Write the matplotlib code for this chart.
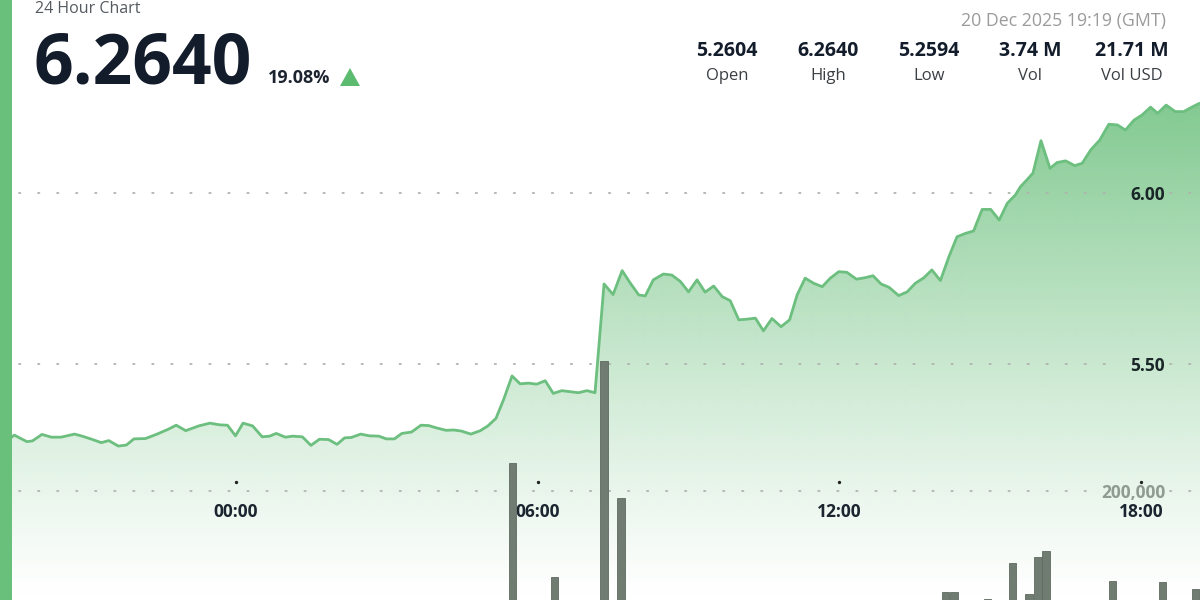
import numpy as np
import matplotlib
matplotlib.use("Agg")
import matplotlib.pyplot as plt
from matplotlib.patches import Rectangle, Polygon
from matplotlib.transforms import blended_transform_factory

plt.rcParams['font.family'] = ['Open Sans', 'DejaVu Sans']
plt.rcParams['lines.scale_dashes'] = False

# ---- data (hours relative to 20 Dec 2025 00:00 GMT) ----
price_hours = [-4.68, -4.41, -4.16, -4.05, -3.86, -3.67, -3.48, -3.21, -3.06, -2.87, -2.68,
               -2.53, -2.34, -2.18, -2.03, -1.80, -1.57, -1.35, -1.19, -1.00, -0.74, -0.52,
               -0.32, -0.17, -0.01, 0.14, 0.33, 0.52, 0.67, 0.80, 0.98, 1.13, 1.32, 1.49,
               1.66, 1.84, 2.01, 2.16, 2.29, 2.48, 2.65, 2.84, 2.99, 3.15, 3.30, 3.49, 3.68,
               3.83, 3.99, 4.18, 4.33, 4.48, 4.67, 4.86, 5.01, 5.17, 5.32, 5.49, 5.65, 5.82,
               5.98, 6.15, 6.31, 6.48, 6.65, 6.81, 6.98, 7.14, 7.32, 7.50, 7.68, 7.84, 8.01,
               8.14, 8.30, 8.50, 8.67, 8.84, 9.00, 9.17, 9.33, 9.50, 9.67, 9.83, 10.00, 10.16,
               10.33, 10.49, 10.66, 10.84, 11.01, 11.16, 11.32, 11.49, 11.66, 11.82, 11.99,
               12.15, 12.34, 12.50, 12.67, 12.83, 12.99, 13.18, 13.35, 13.51, 13.68, 13.84,
               14.01, 14.18, 14.34, 14.51, 14.67, 14.84, 15.01, 15.18, 15.34, 15.50, 15.60,
               15.74, 15.85, 16.01, 16.19, 16.33, 16.50, 16.68, 16.83, 17.00, 17.18, 17.36,
               17.53, 17.69, 17.86, 18.02, 18.19, 18.33, 18.50, 18.68, 18.85, 19.01, 19.16,
               19.32]
prices = [5.2604, 5.292, 5.273, 5.275, 5.294, 5.286, 5.286, 5.295, 5.289, 5.280, 5.270,
          5.276, 5.260, 5.263, 5.281, 5.282, 5.295, 5.309, 5.321, 5.305, 5.319, 5.327,
          5.322, 5.321, 5.290, 5.327, 5.319, 5.287, 5.289, 5.297, 5.286, 5.289, 5.287, 5.262,
          5.280, 5.279, 5.265, 5.284, 5.285, 5.295, 5.290, 5.289, 5.281, 5.281, 5.297, 5.301, 5.321,
          5.320, 5.313, 5.306, 5.307, 5.304, 5.295, 5.305, 5.319, 5.341, 5.395, 5.465, 5.442, 5.444,
          5.441, 5.451, 5.414, 5.422, 5.419, 5.416, 5.422, 5.416, 5.734, 5.703, 5.773, 5.737, 5.702,
          5.699, 5.746, 5.763, 5.760, 5.741, 5.711, 5.746, 5.710, 5.728, 5.697, 5.685, 5.629, 5.631,
          5.634, 5.597, 5.633, 5.609, 5.629, 5.702, 5.751, 5.736, 5.726, 5.751, 5.770,
          5.768, 5.748, 5.752, 5.758, 5.734, 5.724, 5.700, 5.711, 5.736, 5.752, 5.775,
          5.744, 5.814, 5.872, 5.882, 5.889, 5.952, 5.952, 5.921, 5.970, 5.994, 6.018,
          6.040, 6.058, 6.153, 6.072, 6.089, 6.094, 6.080, 6.087, 6.126, 6.155, 6.201,
          6.199, 6.184, 6.213, 6.228, 6.251, 6.233, 6.257, 6.238, 6.238, 6.251, 6.262,
          6.264]

vol_hours = [5.50, 6.33, 7.32, 7.66, 14.11, 14.28, 14.95, 15.44, 15.77, 15.95, 16.11,
             17.43, 18.43, 19.09]
volumes = [246600, 56000, 419000, 188700, 29700, 29700, 19300, 78500, 26900, 88600, 99700,
           49200, 46600, 35300]

price_ticks = [6.00, 5.50]
price_tick_labels = ["6.00", "5.50"]
vol_ticks = [200000]
vol_tick_labels = ["200,000"]
time_ticks = [0, 6, 12, 18]
time_tick_labels = ["00:00", "06:00", "12:00", "18:00"]

title = "24 Hour Chart"
last_price = "6.2640"
change_pct = "19.08%"
timestamp = "20 Dec 2025 19:19 (GMT)"
stat_values = ["5.2604", "6.2640", "5.2594", "3.74 M", "21.71 M"]
stat_names = ["Open", "High", "Low", "Vol", "Vol USD"]

# ---- figure ----
W, H = 1200, 600
fig = plt.figure(figsize=(12, 6), dpi=100)
fig.patch.set_facecolor("white")
ax = fig.add_axes([0, 0, 1, 1])
ax.set_xlim(-4.694, 19.173)
ax.set_ylim(4.8099, 6.5643)
ax.axis("off")

LINE = "#6cbf7e"
DARK = "#131c2b"

# gradient fill under the line
fill = ax.fill_between(price_hours, prices, 4.0, facecolor="none", edgecolor="none")
yy = np.linspace(0, 1, 600)[:, None]  # 0 top -> 1 bottom
alpha = 0.95 * np.clip(1 - yy, 0, 1) ** 1.15
base = np.array([92, 185, 111]) / 255.0
img = np.zeros((600, 1, 4))
img[..., 0] = base[0]
img[..., 1] = base[1]
img[..., 2] = base[2]
img[..., 3] = alpha
im = ax.imshow(img, extent=[0, 1, 0, 1], transform=ax.transAxes, aspect="auto",
               zorder=1, interpolation="bilinear")
im.set_clip_path(fill.get_paths()[0], transform=ax.transData)

ax.plot(price_hours, prices, color=LINE, lw=2.0, zorder=3, solid_joinstyle="round")

# dotted gridlines
dot_style = dict(color="#aeb3ae", lw=1.3, dashes=(1.0, 12.7), dash_capstyle="round", zorder=2)
for v in price_ticks:
    ax.axhline(v, xmin=0.016, xmax=0.925, **dot_style)
    ax.axhline(v, xmin=0.975, xmax=1.0, **dot_style)

# volume axis
ax2 = ax.twinx()
ax2.set_position([0, 0, 1, 1])
ax2.set_ylim(16807, 1025227)
ax2.axis("off")
for v in vol_ticks:
    ax2.axhline(v, xmin=0.016, xmax=0.915, **dot_style)
    ax2.axhline(v, xmin=0.975, xmax=1.0, **dot_style)
ax2.bar(vol_hours, volumes, width=0.145, color="#707c71", edgecolor="#5e6a60",
        linewidth=0.6, zorder=4)

# price tick labels
tr_r = blended_transform_factory(ax.transAxes, ax.transData)
for v, s in zip(price_ticks, price_tick_labels):
    ax.text(0.971, v, s, transform=tr_r, ha="right", va="center_baseline",
            fontsize=12.5, fontweight="bold", color="#1b2628", zorder=6)
tr_r2 = blended_transform_factory(ax2.transAxes, ax2.transData)
for v, s in zip(vol_ticks, vol_tick_labels):
    ax2.text(0.971, v, s, transform=tr_r2, ha="right", va="center_baseline",
             fontsize=12.5, fontweight="bold", color="#8f9a90", zorder=6)

# time tick labels
tr_x = blended_transform_factory(ax.transData, ax.transAxes)
for t, s in zip(time_ticks, time_tick_labels):
    ax.text(t, 1 - 510 / H, s, transform=tr_x, ha="center", va="center_baseline",
            fontsize=12.5, fontweight="bold", color="#1b2530", zorder=6)
    ax.plot([t], [1 - 482 / H], transform=tr_x, marker="o", ms=1.4, color="#222222",
            zorder=6, linestyle="none")

# header texts
def fx(px):
    return px / W

def fy(py):
    return 1 - py / H

fig.text(fx(35), fy(13), title, fontsize=11.5, color="#555b60", ha="left", va="baseline")
fig.text(fx(33), fy(83), last_price, fontsize=50, fontweight="bold", color=DARK,
         ha="left", va="baseline")
fig.text(fx(268), fy(83), change_pct, fontsize=13, fontweight="bold", color="#1d2430",
         ha="left", va="baseline")
tri = Polygon([(fx(340), fy(86)), (fx(360), fy(86)), (fx(350), fy(68))], closed=True,
              transform=fig.transFigure, facecolor="#5dbb6f", edgecolor="none")
fig.add_artist(tri)

fig.text(fx(1166), fy(26), timestamp, fontsize=12.8, color="#9b9b9b", ha="right", va="baseline")
stat_x = [727, 828, 929, 1030, 1132]
for x, v, n in zip(stat_x, stat_values, stat_names):
    fig.text(fx(x), fy(56), v, fontsize=14, fontweight="bold", color=DARK,
             ha="center", va="baseline")
    fig.text(fx(x), fy(80), n, fontsize=12, color="#3a3f44", ha="center", va="baseline")

# left accent bar
fig.add_artist(Rectangle((0, 0), 12 / W, 1, transform=fig.transFigure,
                         facecolor="#69c07b", edgecolor="none", zorder=10))

fig.savefig("out.png", dpi=100)
